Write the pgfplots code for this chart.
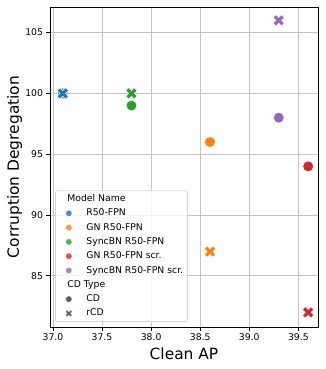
\documentclass[border=0pt]{standalone}
\usepackage{fontspec}
\setmainfont{DejaVu Sans}
\usepackage{pgfplots}
\pgfplotsset{compat=1.18}

\definecolor{c0}{HTML}{1F77B4}
\definecolor{c1}{HTML}{FF7F0E}
\definecolor{c2}{HTML}{2CA02C}
\definecolor{c3}{HTML}{D62728}
\definecolor{c4}{HTML}{9467BD}
\definecolor{cdk}{HTML}{333333}
\definecolor{gridc}{HTML}{C4C4C4}

% filled X marker (plus rotated by 45 degrees)
\pgfdeclareplotmark{Xf}{%
  \pgftransformrotate{45}%
  \pgfpathmoveto{\pgfqpoint{-0.333\pgfplotmarksize}{-\pgfplotmarksize}}%
  \pgfpathlineto{\pgfqpoint{0.333\pgfplotmarksize}{-\pgfplotmarksize}}%
  \pgfpathlineto{\pgfqpoint{0.333\pgfplotmarksize}{-0.333\pgfplotmarksize}}%
  \pgfpathlineto{\pgfqpoint{\pgfplotmarksize}{-0.333\pgfplotmarksize}}%
  \pgfpathlineto{\pgfqpoint{\pgfplotmarksize}{0.333\pgfplotmarksize}}%
  \pgfpathlineto{\pgfqpoint{0.333\pgfplotmarksize}{0.333\pgfplotmarksize}}%
  \pgfpathlineto{\pgfqpoint{0.333\pgfplotmarksize}{\pgfplotmarksize}}%
  \pgfpathlineto{\pgfqpoint{-0.333\pgfplotmarksize}{\pgfplotmarksize}}%
  \pgfpathlineto{\pgfqpoint{-0.333\pgfplotmarksize}{0.333\pgfplotmarksize}}%
  \pgfpathlineto{\pgfqpoint{-\pgfplotmarksize}{0.333\pgfplotmarksize}}%
  \pgfpathlineto{\pgfqpoint{-\pgfplotmarksize}{-0.333\pgfplotmarksize}}%
  \pgfpathlineto{\pgfqpoint{-0.333\pgfplotmarksize}{-0.333\pgfplotmarksize}}%
  \pgfpathclose
  \pgfusepathqfillstroke
}

\pgfplotsset{
  cd/.style={only marks, mark=*, mark size=5.4bp, forget plot,
    mark options={fill=#1, draw=white, line width=0.5bp}},
  rcd/.style={only marks, mark=Xf, mark size=6bp, forget plot,
    mark options={fill=#1, draw=white, line width=0.5bp}},
  lcd/.style={only marks, mark=*, mark size=3.3bp,
    mark options={fill=#1, draw=white, line width=0.4bp}},
  lrcd/.style={only marks, mark=Xf, mark size=3.7bp,
    mark options={fill=#1, draw=white, line width=0.4bp}},
}

\begin{document}
\begin{tikzpicture}
\useasboundingbox (-50bp,-42bp) rectangle (276bp,327bp);
\begin{axis}[
  scale only axis,
  width=268bp, height=320bp,
  xmin=36.97, xmax=39.70,
  ymin=80.8, ymax=107.1,
  xtick={37,37.5,38,38.5,39,39.5},
  ytick={85,90,95,100,105},
  xticklabel style={/pgf/number format/.cd, fixed, fixed zerofill, precision=1},
  /pgf/number format/assume math mode=true,
  tick label style={font=\fontsize{9.3}{11}\selectfont},
  tick pos=left,
  tick align=outside,
  major tick length=3.5bp,
  major tick style={line width=0.8bp, black},
  axis line style={line width=0.8bp},
  grid=major,
  major grid style={line width=0.8bp, gridc},
  xlabel={Clean AP},
  ylabel={Corruption Degregation},
  label style={font=\fontsize{15.5}{18}\selectfont},
  xlabel style={at={(axis description cs:0.5,-0.1031)}, anchor=base},
  ylabel style={at={(axis description cs:-0.1157,0.5)}, anchor=base},
  legend image code/.code={%
    \draw[#1] plot coordinates {(10bp,0bp)};
    \path (0bp,0bp) (26bp,0bp);},
  legend cell align=left,
  legend style={
    at={(axis description cs:0.0187,0.0156)}, anchor=south west,
    draw=gridc!70, rounded corners=2bp, line width=0.8bp,
    fill=white, fill opacity=0.8, text opacity=1,
    font=\fontsize{9.3}{11}\selectfont,
    inner xsep=3bp, inner ysep=2.5bp,
    row sep=2.9bp,
    nodes={inner sep=1.2bp, text height=7bp, text depth=2bp},
  },
]
% R50-FPN
\addplot[cd=c0] coordinates {(37.1,100)};
\addplot[rcd=c0] coordinates {(37.1,100)};
% GN R50-FPN
\addplot[cd=c1] coordinates {(38.6,96)};
\addplot[rcd=c1] coordinates {(38.6,87)};
% SyncBN R50-FPN
\addplot[cd=c2] coordinates {(37.8,99)};
\addplot[rcd=c2] coordinates {(37.8,100)};
% GN R50-FPN scr.
\addplot[cd=c3] coordinates {(39.6,94)};
\addplot[rcd=c3] coordinates {(39.6,82)};
% SyncBN R50-FPN scr.
\addplot[cd=c4] coordinates {(39.3,98)};
\addplot[rcd=c4] coordinates {(39.3,106)};

\addlegendimage{empty legend}
\addlegendentry{\hspace{-19bp}Model Name}
\addlegendimage{lcd=c0}
\addlegendentry{R50-FPN}
\addlegendimage{lcd=c1}
\addlegendentry{GN R50-FPN}
\addlegendimage{lcd=c2}
\addlegendentry{SyncBN R50-FPN}
\addlegendimage{lcd=c3}
\addlegendentry{GN R50-FPN scr.}
\addlegendimage{lcd=c4}
\addlegendentry{SyncBN R50-FPN scr.}
\addlegendimage{empty legend}
\addlegendentry{\hspace{-19bp}CD Type}
\addlegendimage{lcd=cdk}
\addlegendentry{CD}
\addlegendimage{lrcd=cdk}
\addlegendentry{rCD}
\end{axis}
\end{tikzpicture}
\end{document}
